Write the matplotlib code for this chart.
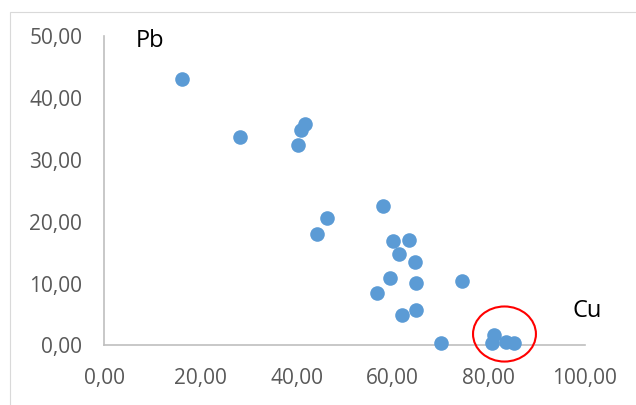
import numpy as np
import matplotlib.pyplot as plt
from matplotlib.patches import Ellipse, Rectangle

plt.rcParams['font.family'] = ['Open Sans', 'DejaVu Sans']

# Cu (x) and Pb (y) values
cu = [16.1, 28.2, 40.3, 41.0, 41.8, 44.3, 46.3, 58.1, 60.0, 63.4, 61.4, 64.7,
      59.5, 64.8, 56.8, 74.5, 62.0, 64.9, 70.0, 81.2, 80.7, 83.6, 85.2]
pb = [43.0, 33.7, 32.4, 34.8, 35.8, 18.0, 20.6, 22.5, 16.9, 17.0, 14.7, 13.5,
      10.9, 10.1, 8.4, 10.4, 5.0, 5.7, 0.4, 1.7, 0.4, 0.5, 0.4]
xticks = [0, 20, 40, 60, 80, 100]
yticks = [0, 10, 20, 30, 40, 50]

fig = plt.figure(figsize=(6.36, 4.05), dpi=100)
ax = fig.add_axes([0.1643, 0.147, 0.755, 0.764])

# chart frame (cut off at right/bottom)
fig.patches.append(Rectangle((10 / 636, -0.1), 1.2, 1 - 12 / 405 + 0.1,
                             transform=fig.transFigure, fill=False,
                             edgecolor='#d9d9d9', linewidth=0.8))

ax.plot(cu, pb, 'o', color='#5b9bd5', markersize=10.5, markeredgewidth=0,
        clip_on=False, zorder=3)

ax.set_xlim(0, 100)
ax.set_ylim(0, 50)
ax.set_xticks(xticks)
ax.set_yticks(yticks)
ax.set_xticklabels(['%d,00' % v for v in xticks])
ax.set_yticklabels(['%d,00' % v for v in yticks])
ax.tick_params(length=0, labelsize=15, labelcolor='#595959')
ax.tick_params(axis='x', pad=16)
ax.tick_params(axis='y', pad=16)
for s in ['top', 'right']:
    ax.spines[s].set_visible(False)
for s in ['left', 'bottom']:
    ax.spines[s].set_color('#bfbfbf')
    ax.spines[s].set_linewidth(1.2)

ax.text(9.4, 49.2, 'Pb', fontsize=17, ha='center', va='center', color='black')
ax.text(100.5, 5.5, 'Cu', fontsize=17, ha='center', va='center', color='black')

ax.add_patch(Ellipse((83.3, 1.85), 13.1, 8.9, fill=False, edgecolor='#ff0000',
                     linewidth=1.5, clip_on=False, zorder=4))

fig.savefig('out.png', dpi=100)
